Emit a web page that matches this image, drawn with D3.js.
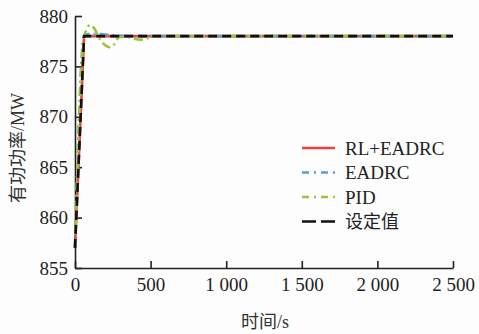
<!DOCTYPE html>
<html>
<head>
<meta charset="utf-8">
<script src="https://cdn.jsdelivr.net/npm/d3@7"></script>
<style>
  body { margin: 0; background: #fdfdfd; }
  svg { display: block; }
  .axis text { font-family: "Liberation Serif", "DejaVu Serif", serif; font-size: 19px; fill: #222; }
  .axis path, .axis line { stroke: #222; stroke-width: 1.6; }
</style>
</head>
<body>
<svg id="chart"></svg>
<script>
// data (time in s, active power in MW)
var rlTime    = [0, 60, 2500];
var rlPower   = [857, 878, 878];

var eadrcTime  = [0, 60, 90, 150, 250, 350, 2500];
var eadrcPower = [857, 878, 878.2, 878.2, 878.1, 878, 878];

var pidTime  = [0, 55, 75, 100, 130, 160, 200, 231, 260, 290, 340, 380, 430, 480, 520, 2500];
var pidPower = [857, 877.5, 878.6, 879.1, 878.7, 877.8, 877.1, 876.9, 877.2, 877.9, 877.95, 877.8, 877.65, 877.8, 878, 878];

var refTime  = [0, 60, 2500];
var refPower = [857, 878, 878];

var xTicks = [0, 500, 1000, 1500, 2000, 2500];
var yTicks = [855, 860, 865, 870, 875, 880];

var seriesNames = ["RL+EADRC", "EADRC", "PID", "设定值"];

var svgWidth = 479, svgHeight = 334;
var svg = d3.select("#chart").attr("width", svgWidth).attr("height", svgHeight);

var x = d3.scaleLinear().domain([0, 2500]).range([75, 453]);
var y = d3.scaleLinear().domain([855, 880]).range([268, 16]);

function pairs(t, v) { return t.map(function(d, i) { return [d, v[i]]; }); }

var series = [
  {name: seriesNames[0], pts: pairs(rlTime, rlPower), color: "#e8423a", dash: null, curve: d3.curveLinear},
  {name: seriesNames[1], pts: pairs(eadrcTime, eadrcPower), color: "#5b9bd5", dash: "9,4,2,4", curve: d3.curveMonotoneX},
  {name: seriesNames[2], pts: pairs(pidTime, pidPower), color: "#9cc23e", dash: "9,4,2,4", curve: d3.curveMonotoneX},
  {name: seriesNames[3], pts: pairs(refTime, refPower), color: "#111", dash: "9,5", curve: d3.curveLinear}
];

// axes
svg.append("g")
    .attr("class", "axis")
    .attr("transform", "translate(0," + y(855) + ")")
    .call(d3.axisBottom(x)
      .tickValues(xTicks)
      .tickSizeInner(-7).tickSizeOuter(0).tickPadding(10)
      .tickFormat(function(d) {
        return d >= 1000 ? Math.floor(d / 1000) + " " + String(d % 1000).padStart(3, "0") : d;
      }));

svg.append("g")
    .attr("class", "axis")
    .attr("transform", "translate(" + x(0) + ",0)")
    .call(d3.axisLeft(y)
      .tickValues(yTicks)
      .tickSizeInner(-7).tickSizeOuter(0).tickPadding(7));

// lines
series.forEach(function(s) {
  var line = d3.line()
      .x(function(d) { return x(d[0]); })
      .y(function(d) { return y(d[1]); })
      .curve(s.curve);
  svg.append("path")
      .datum(s.pts)
      .attr("d", line)
      .attr("fill", "none")
      .attr("stroke", s.color)
      .attr("stroke-width", 2.6)
      .attr("stroke-dasharray", s.dash);
});

// axis titles
svg.append("text")
    .attr("x", 265).attr("y", 328)
    .attr("text-anchor", "middle")
    .style("font-size", "18px").style("fill", "#333")
    .html('<tspan style="font-family:\'Noto Sans CJK SC\'">时间</tspan><tspan style="font-family:\'Liberation Serif\'">/s</tspan>');

svg.append("text")
    .attr("transform", "translate(24,148) rotate(-90)")
    .attr("text-anchor", "middle")
    .style("font-size", "18px").style("fill", "#333")
    .html('<tspan style="font-family:\'Noto Sans CJK SC\'">有功功率</tspan><tspan style="font-family:\'Liberation Serif\'">/MW</tspan>');

// legend
var legend = svg.append("g")
    .selectAll("g")
    .data(series)
    .enter().append("g")
      .attr("transform", function(d, i) { return "translate(302," + (148 + i * 24.5) + ")"; });

legend.append("line")
    .attr("x1", 0).attr("x2", 33)
    .attr("stroke", function(d) { return d.color; })
    .attr("stroke-width", 2.6)
    .attr("stroke-dasharray", function(d) { return d.name == "设定值" ? "14,5" : (d.dash ? "7,5,2,5" : null); });

legend.append("text")
    .attr("x", 43)
    .attr("dy", "0.35em")
    .style("font-family", function(d) { return d.name == "设定值" ? "'Noto Sans CJK SC'" : "'Liberation Serif'"; })
    .style("font-size", function(d) { return d.name == "设定值" ? "18px" : "19px"; })
    .style("fill", "#222")
    .text(function(d) { return d.name; });
</script>
</body>
</html>
